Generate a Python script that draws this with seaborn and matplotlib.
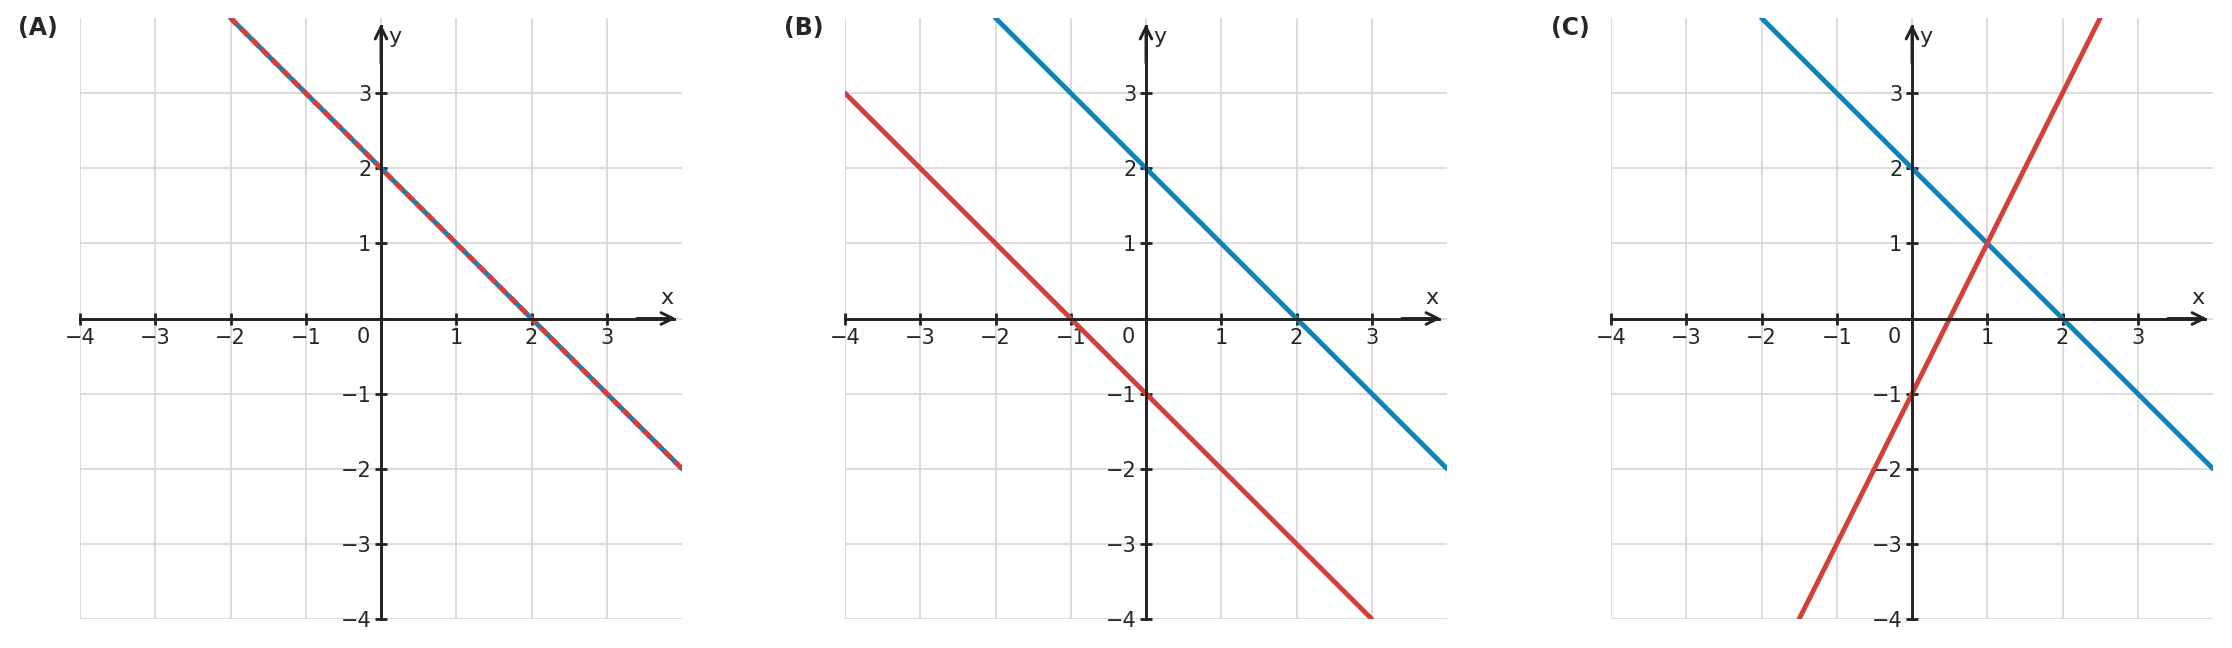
import numpy as np
import pandas as pd
import seaborn as sns
from matplotlib import pyplot as plt

# data
panel_labels = ["(A)", "(B)", "(C)"]
ticks = [-4, -3, -2, -1, 0, 1, 2, 3]

blue_x = [-2, 4]
blue_y = [4, -2]

red_x = {"(A)": [-2, 4], "(B)": [-4, 3], "(C)": [-1.5, 2.5]}
red_y = {"(A)": [4, -2], "(B)": [3, -4], "(C)": [-4, 4]}

BLUE = "#0a84bb"
RED = "#d2403a"
INK = "#222222"

sns.set_style("whitegrid")
plt.rcParams["font.family"] = ["DejaVu Sans"]

fig = plt.figure(figsize=(22.32, 6.48), dpi=100)
lefts = [80 / 2232, 845 / 2232, 1611 / 2232]
label_x = [18 / 2232, 784 / 2232, 1551 / 2232]


def tick_text(v):
    if v == 0:
        return ""
    return str(v).replace("-", "\u2212")


for i, name in enumerate(panel_labels):
    ax = fig.add_axes([lefts[i], 29 / 648, 602 / 2232, 601 / 648])

    blue = pd.DataFrame({"x": blue_x, "y": blue_y})
    red = pd.DataFrame({"x": red_x[name], "y": red_y[name]})
    sns.lineplot(data=blue, x="x", y="y", ax=ax, color=BLUE, lw=3.5, legend=False)
    if name == "(A)":
        sns.lineplot(data=red, x="x", y="y", ax=ax, color=RED, lw=3.5,
                     linestyle=(0, (2.1, 0.9)), legend=False)
    else:
        sns.lineplot(data=red, x="x", y="y", ax=ax, color=RED, lw=3.5, legend=False)

    ax.set_xlim(-4, 4)
    ax.set_ylim(-4, 4)
    ax.set_xticks(ticks)
    ax.set_yticks(ticks)
    ax.set_xticklabels([tick_text(t) for t in ticks])
    ax.set_yticklabels([tick_text(t) for t in ticks])
    ax.set_xlabel("")
    ax.set_ylabel("")
    ax.grid(True, color="#d6d6d6", lw=1.2)
    ax.set_axisbelow(True)

    for s in ["top", "right"]:
        ax.spines[s].set_visible(False)
    for s in ["left", "bottom"]:
        ax.spines[s].set_position("zero")
        ax.spines[s].set_color(INK)
        ax.spines[s].set_linewidth(2.1)
        ax.spines[s].set_bounds(-4, 3.9)

    ax.tick_params(bottom=True, left=True, direction="inout", length=8, width=2,
                   color=INK, labelsize=15, labelcolor="#262626", pad=3)

    # arrow heads
    ax.annotate("", xy=(3.92, 0), xytext=(3.4, 0),
                arrowprops=dict(arrowstyle="->", lw=2.1, color=INK,
                                mutation_scale=21, shrinkA=0, shrinkB=0),
                annotation_clip=False)
    ax.annotate("", xy=(0, 3.92), xytext=(0, 3.4),
                arrowprops=dict(arrowstyle="->", lw=2.1, color=INK,
                                mutation_scale=21, shrinkA=0, shrinkB=0),
                annotation_clip=False)

    ax.text(-0.23, -0.25, "0", ha="center", va="center", fontsize=15, color="#262626")
    ax.text(3.8, 0.27, "x", ha="center", va="center", fontsize=16, color="#262626")
    ax.text(0.19, 3.75, "y", ha="center", va="center", fontsize=16, color="#262626")

    fig.text(label_x[i], 1 - 28 / 648, name, ha="left", va="center",
             fontsize=17, fontweight="bold", color="#262626")

fig.savefig("out.png", dpi=100)
